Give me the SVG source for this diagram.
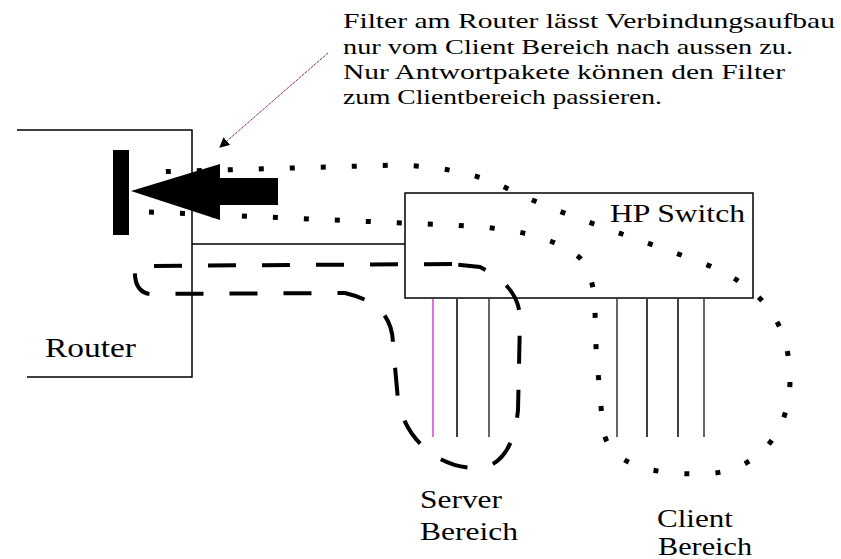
<svg xmlns="http://www.w3.org/2000/svg" width="841" height="559" viewBox="0 0 841 559">
<style>
.box{fill:none;stroke:#000;stroke-width:1.5}
.port{stroke:#000;stroke-width:1.5}
.dash{fill:none;stroke:#000;stroke-width:4;stroke-dasharray:28 26}
.dot{fill:none;stroke:#000;stroke-width:5;stroke-dasharray:5 26}
</style>
<defs>
<marker id="ah" markerWidth="10" markerHeight="10" refX="9" refY="5" orient="auto" markerUnits="userSpaceOnUse">
<path d="M0,0 L10,5 L0,10 Z" fill="#000"/>
</marker>
</defs>
<rect width="841" height="559" fill="#fff"/>
<g id="annotation">
<text font-family="Liberation Serif" font-size="21" x="343" y="28" textLength="492" lengthAdjust="spacingAndGlyphs">Filter am Router lässt Verbindungsaufbau</text>
<text font-family="Liberation Serif" font-size="21" x="343" y="54" textLength="450" lengthAdjust="spacingAndGlyphs">nur vom Client Bereich nach aussen zu.</text>
<text font-family="Liberation Serif" font-size="21" x="343" y="79" textLength="442" lengthAdjust="spacingAndGlyphs">Nur Antwortpakete können den Filter</text>
<text font-family="Liberation Serif" font-size="21" x="343" y="104" textLength="319" lengthAdjust="spacingAndGlyphs">zum Clientbereich passieren.</text>
</g>
<g id="router">
<polyline class="box" points="17,130 192,130 192,377 27,377"/>
<text font-family="Liberation Serif" font-size="28" x="45" y="357" textLength="91" lengthAdjust="spacingAndGlyphs">Router</text>
</g>
<g id="filter">
<rect x="113" y="150" width="16" height="85" fill="#000"/>
<path d="M131,191 L220,164 L220,178 L278,178 L278,205 L220,205 L220,220 Z" fill="#000"/>
</g>
<g id="switch">
<rect class="box" x="405" y="193" width="348" height="105"/>
<text font-family="Liberation Serif" font-size="26" x="610" y="222" textLength="135" lengthAdjust="spacingAndGlyphs">HP Switch</text>
</g>
<g id="server-ports">
<line class="port" x1="433" y1="299" x2="433" y2="437" style="stroke:#e040d0"/>
<line class="port" x1="457" y1="299" x2="457" y2="437"/>
<line class="port" x1="489" y1="299" x2="489" y2="437" style="stroke:#333"/>
<text font-family="Liberation Serif" font-size="26" x="420" y="508" textLength="82" lengthAdjust="spacingAndGlyphs">Server</text>
<text font-family="Liberation Serif" font-size="26" x="420" y="540" textLength="98" lengthAdjust="spacingAndGlyphs">Bereich</text>
</g>
<g id="client-ports">
<line class="port" x1="617" y1="299" x2="617" y2="437" style="stroke:#333"/>
<line class="port" x1="647" y1="299" x2="647" y2="437"/>
<line class="port" x1="678" y1="299" x2="678" y2="437"/>
<line class="port" x1="704" y1="299" x2="704" y2="437" style="stroke:#333"/>
<text font-family="Liberation Serif" font-size="26" x="657" y="527" textLength="76" lengthAdjust="spacingAndGlyphs">Client</text>
<text font-family="Liberation Serif" font-size="25" x="658" y="555" textLength="94" lengthAdjust="spacingAndGlyphs">Bereich</text>
</g>
<g id="connectors">
<line x1="192" y1="244" x2="405" y2="244" stroke="#000" stroke-width="1.5"/>
<line x1="328" y1="53" x2="220" y2="147" stroke="#7a2a70" stroke-width="1" stroke-dasharray="3 1" marker-end="url(#ah)"/>
<path class="dash" d="M452,264 L135,266 Q133,292 150,294 L345,293 C375,300 393,315 393,345 L398,400 C405,440 440,470 480,468 C505,465 515,440 518,410 L520,320 C520,295 505,280 480,267 Z"/>
<path class="dot" d="M149,212 L403,223 C470,226 540,225 580,258 C600,280 593,320 597,360 L603,430 C610,465 650,474 700,474 C760,474 790,430 790,380 C790,320 760,285 700,262 C620,232 560,215 500,185 C470,172 440,167 400,165 L152,172"/>
</g>
</svg>
